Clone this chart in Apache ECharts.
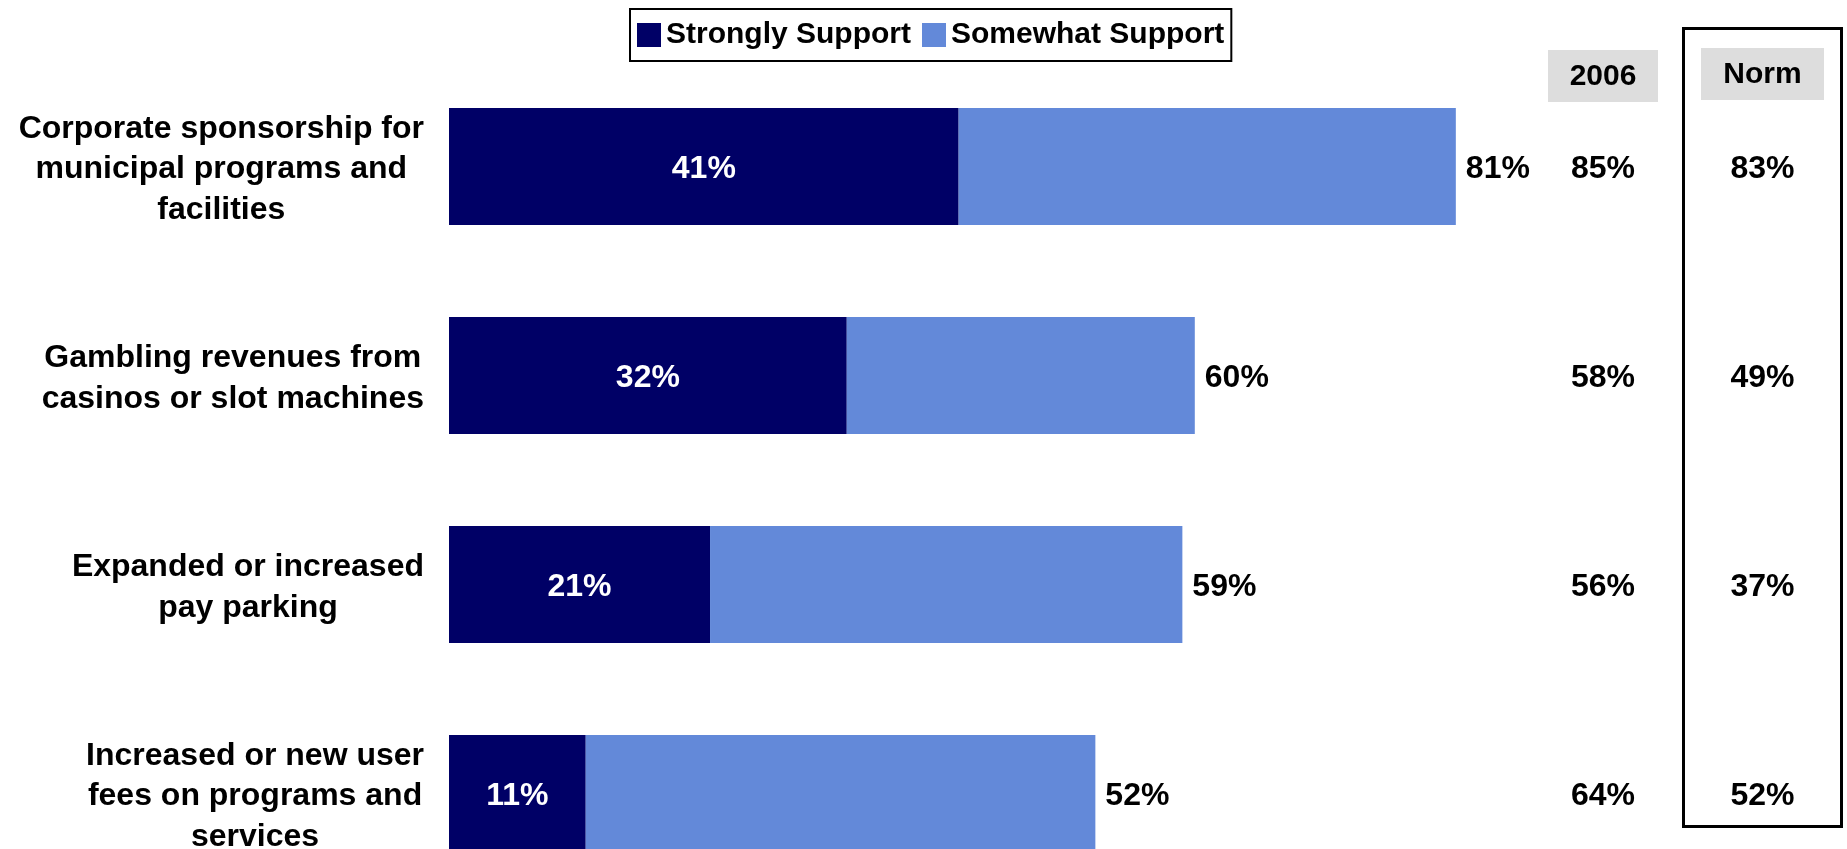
<!DOCTYPE html>
<html><head><meta charset="utf-8">
<script src="https://cdn.jsdelivr.net/npm/echarts@6/dist/echarts.min.js"></script>
<style>html,body{margin:0;padding:0;background:#fff}#c{width:1847px;height:849px}</style>
</head><body><div id="c"></div>
<script>
const categories = [
  'Corporate sponsorship for\nmunicipal programs and\nfacilities',
  'Gambling revenues from\ncasinos or slot machines',
  'Expanded or increased\npay parking',
  'Increased or new user\nfees on programs and\nservices'
];
const seriesNames = ['Strongly Support', 'Somewhat Support'];
const stronglySupport = [41, 32, 21, 11];
const somewhatSupport = [40, 28, 38, 41];
const totalSupport = [81, 60, 59, 52];
const values2006 = [85, 58, 56, 64];
const valuesNorm = [83, 49, 37, 52];
const columnHeaders = ['2006', 'Norm'];

const FONT = '"Liberation Sans", Arial, Helvetica, sans-serif';
const chart = echarts.init(document.getElementById('c'), null, {renderer: 'canvas'});

const idx = categories.map((_, i) => i);
const valueLabel = {fontSize: 32, fontWeight: 'bold', fontFamily: FONT, offset: [0, 3]};

chart.setOption({
  animation: false,
  backgroundColor: '#fff',
  legend: {
    data: seriesNames,
    left: 630, top: 9,
    itemWidth: 24, itemHeight: 24, itemGap: 11,
    padding: [11, 7, 11, 7],
    borderColor: '#000', borderWidth: 2,
    icon: 'rect',
    textStyle: {fontSize: 30, fontWeight: 'bold', color: '#000', fontFamily: FONT}
  },
  grid: [
    {left: 449, top: 62, width: 1243, height: 836, outerBoundsMode: 'none', containLabel: false},
    {left: 1548, top: 62, width: 110, height: 836, outerBoundsMode: 'none', containLabel: false},
    {left: 1701, top: 62, width: 123, height: 836, outerBoundsMode: 'none', containLabel: false}
  ],
  xAxis: [
    {type: 'value', gridIndex: 0, min: 0, max: 100, show: false},
    {type: 'value', gridIndex: 1, min: 0, max: 1, show: false},
    {type: 'value', gridIndex: 2, min: 0, max: 1, show: false}
  ],
  yAxis: [
    {
      type: 'category', gridIndex: 0, data: categories, inverse: true,
      axisLine: {show: false}, axisTick: {show: false}, splitLine: {show: false},
      axisLabel: {
        margin: 25, align: 'right', padding: [6, 0, 0, 0],
        fontSize: 32, fontWeight: 'bold', fontFamily: FONT, color: '#000', lineHeight: 40.6,
        formatter: v => v.split('\n').map(l => '{c|' + l + '}').join('\n'),
        rich: {c: {align: 'center', fontSize: 32, fontWeight: 'bold', fontFamily: FONT, color: '#000', lineHeight: 40.6}}
      }
    },
    {type: 'category', gridIndex: 1, data: categories, inverse: true, show: false},
    {type: 'category', gridIndex: 2, data: categories, inverse: true, show: false}
  ],
  series: [
    {
      name: seriesNames[0], type: 'bar', stack: 'support', barWidth: 117,
      xAxisIndex: 0, yAxisIndex: 0,
      itemStyle: {color: '#000066'},
      label: Object.assign({show: true, position: 'inside', color: '#fff',
        formatter: p => p.value + '%'}, valueLabel),
      data: stronglySupport
    },
    {
      name: seriesNames[1], type: 'bar', stack: 'support', barWidth: 117,
      xAxisIndex: 0, yAxisIndex: 0,
      itemStyle: {color: '#6389D9'},
      label: Object.assign({show: true, position: 'right', distance: 10, color: '#000',
        formatter: p => totalSupport[p.dataIndex] + '%'}, valueLabel),
      data: somewhatSupport
    },
    {
      name: columnHeaders[0], type: 'scatter', xAxisIndex: 1, yAxisIndex: 1,
      symbolSize: 1, itemStyle: {color: '#fff', opacity: 1},
      label: Object.assign({show: true, position: 'inside', color: '#000', textBorderWidth: 0,
        formatter: p => values2006[p.dataIndex] + '%'}, valueLabel),
      emphasis: {disabled: true},
      data: idx.map(i => [0.5, i])
    },
    {
      name: columnHeaders[1], type: 'scatter', xAxisIndex: 2, yAxisIndex: 2,
      symbolSize: 1, itemStyle: {color: '#fff', opacity: 1},
      label: Object.assign({show: true, position: 'inside', color: '#000', textBorderWidth: 0,
        formatter: p => valuesNorm[p.dataIndex] + '%'}, valueLabel),
      emphasis: {disabled: true},
      data: idx.map(i => [0.5, i])
    }
  ],
  graphic: [
    {type: 'rect', shape: {x: 1683.5, y: 28.5, width: 158, height: 798},
      style: {fill: 'none', stroke: '#000', lineWidth: 3}, silent: true},
    {type: 'rect', shape: {x: 1548, y: 50, width: 110, height: 52}, style: {fill: '#DDDDDD'},
      textContent: {style: {text: columnHeaders[0], font: 'bold 30px ' + FONT, fill: '#000'}},
      textConfig: {position: 'inside', offset: [0, 1]}, silent: true},
    {type: 'rect', shape: {x: 1701, y: 48, width: 123, height: 52}, style: {fill: '#DDDDDD'},
      textContent: {style: {text: columnHeaders[1], font: 'bold 30px ' + FONT, fill: '#000'}},
      textConfig: {position: 'inside', offset: [0, 1]}, silent: true}
  ]
});
</script>
</body></html>
